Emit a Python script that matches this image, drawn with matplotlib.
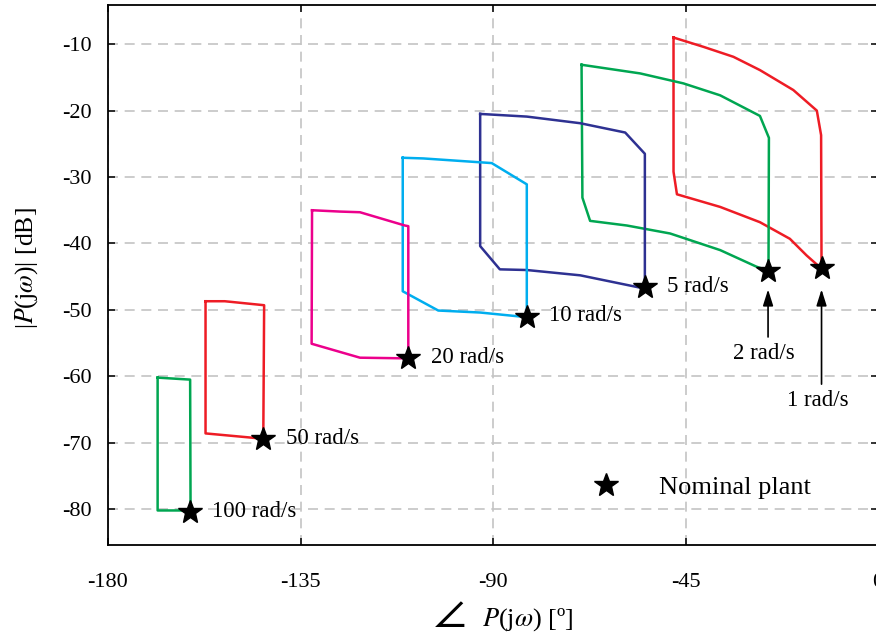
import matplotlib
matplotlib.use("Agg")
import matplotlib.pyplot as plt

plt.rcParams['font.family'] = ['Liberation Serif', 'DejaVu Serif']
plt.rcParams['mathtext.fontset'] = 'stix'
plt.rcParams['axes.unicode_minus'] = False

# template boundaries (phase [deg], magnitude [dB])
t1_x = [-47.8, -40.8, -33.8, -27.6, -19.8, -14.3, -13.3, -13.2, -16.7, -20.6, -27.6, -36.9, -47.0, -47.8, -47.8]
t1_y = [-9.0, -10.4, -11.9, -13.9, -16.9, -20.0, -23.7, -43.8, -41.8, -39.3, -36.8, -34.5, -32.6, -29.2, -9.0]
t2_x = [-69.3, -55.6, -45.5, -36.9, -27.6, -25.5, -25.6, -28.4, -36.9, -48.6, -58.7, -67.3, -69.1, -69.3]
t2_y = [-13.1, -14.4, -15.9, -17.7, -20.8, -24.1, -44.1, -43.5, -41.0, -38.5, -37.3, -36.6, -33.1, -13.1]
t5_x = [-93.0, -82.1, -69.6, -59.1, -54.5, -54.5, -69.6, -82.1, -88.4, -93.0, -93.0]
t5_y = [-20.5, -20.9, -21.9, -23.3, -26.5, -46.8, -44.8, -44.0, -43.9, -40.4, -20.5]
t10_x = [-111.1, -106.3, -90.3, -82.1, -82.1, -93.0, -102.8, -111.1, -111.1]
t10_y = [-27.1, -27.2, -27.9, -31.1, -51.1, -50.4, -50.1, -47.2, -27.1]
t20_x = [-132.3, -125.8, -121.1, -110.6, -109.8, -109.8, -110.2, -121.1, -132.4, -132.3]
t20_y = [-35.0, -35.2, -35.3, -37.3, -37.4, -57.3, -57.3, -57.2, -55.1, -35.0]
t50_x = [-157.2, -152.7, -143.5, -143.7, -157.2, -157.2]
t50_y = [-48.7, -48.7, -49.3, -69.4, -68.6, -48.7]
t100_x = [-168.4, -160.8, -160.7, -168.4, -168.4]
t100_y = [-60.2, -60.5, -80.2, -80.2, -60.2]

# nominal plant points
nom_x = [-13.2, -25.7, -54.5, -82.0, -109.8, -143.7, -160.8]
nom_y = [-43.7, -44.2, -46.6, -51.0, -57.3, -69.4, -80.5]
freq_labels = ['1 rad/s', '2 rad/s', '5 rad/s', '10 rad/s', '20 rad/s', '50 rad/s', '100 rad/s']

templates = [
    (t1_x, t1_y, '#ee1c25'),
    (t2_x, t2_y, '#00a651'),
    (t5_x, t5_y, '#2e3192'),
    (t10_x, t10_y, '#00aeef'),
    (t20_x, t20_y, '#ec008c'),
    (t50_x, t50_y, '#ee1c25'),
    (t100_x, t100_y, '#00a651'),
]

fig = plt.figure(figsize=(8.76, 6.4), dpi=100)
ax = fig.add_axes([108 / 876, 1 - 545 / 640, 770 / 876, 540 / 640])

for xs, ys, c in templates:
    ax.plot(xs, ys, color=c, lw=1.8, zorder=3)

ax.plot(nom_x, nom_y, linestyle='none', marker='*', ms=18, color='black',
        zorder=4, label='Nominal plant')

# labels next to stars
for i in range(2, 7):
    ax.text(nom_x[i] + 5.2, nom_y[i] + 0.1, freq_labels[i], fontsize=16.5,
            ha='left', va='center')

# arrow labels for 1 and 2 rad/s
for i, tail, ty in ((0, -61.6, -63.6), (1, -54.5, -56.6)):
    ax.annotate('', xy=(nom_x[i], -46.5), xytext=(nom_x[i], tail),
                arrowprops=dict(arrowstyle='-|>,head_length=0.7,head_width=0.22',
                                color='black', lw=1.2, mutation_scale=14))
    ax.text(nom_x[i] - 0.9, ty, freq_labels[i], fontsize=16.5,
            ha='center', va='center')

ax.set_xlim(-180, 0)
ax.set_ylim(-85.4, -4.1)
ax.set_xticks([-180, -135, -90, -45, 0])
ax.set_yticks([-80, -70, -60, -50, -40, -30, -20, -10])
ax.tick_params(direction='in', top=True, right=True, labelsize=16, length=5,
               width=1.1)
ax.tick_params(axis='x', pad=20)
ax.tick_params(axis='y', pad=12)
ax.grid(True, color='#c4c4c4', linestyle=(0, (6, 4)), lw=1.2)
for s in ax.spines.values():
    s.set_linewidth(1.3)

# phase label: big angle sign, then P(jw) [deg]
ax.set_xlabel(r'$P$(j$\omega$) [º]', fontsize=19, va='center')
ax.xaxis.set_label_coords(0.545, -0.139)
ax.text(0.443, -0.131, r'$\angle$', transform=ax.transAxes, fontsize=34,
        ha='center', va='center')
ax.set_ylabel(r'|$P$(j$\omega$)| [dB]', fontsize=18.5, va='center')
ax.yaxis.set_label_coords(-0.106, 0.513)

ax.legend(loc='center left', bbox_to_anchor=(0.613, 0.107), frameon=False,
          fontsize=19, handletextpad=1.0, borderpad=0, borderaxespad=0,
          numpoints=1)

fig.savefig('out.png', dpi=100)
